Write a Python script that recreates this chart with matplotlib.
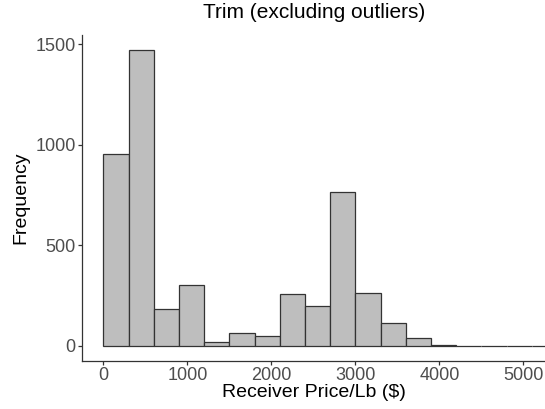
import matplotlib
matplotlib.use("Agg")
import matplotlib.pyplot as plt
import numpy as np

plt.rcParams['font.family'] = ['Liberation Sans', 'DejaVu Sans']

# histogram counts, binwidth 300 starting at 0
bin_width = 300
bin_starts = np.arange(0, 5400, bin_width)
counts = [954, 1470, 185, 301, 20, 66, 50, 258, 197, 767, 262, 114, 38, 5,
          0, 0, 0, 0]

title = "Trim (excluding outliers)"
x_label = "Receiver Price/Lb ($)"
y_label = "Frequency"
x_ticks = [0, 1000, 2000, 3000, 4000, 5000]
y_ticks = [0, 500, 1000, 1500]

fig = plt.figure(figsize=(5.45, 4.09), dpi=100)
ax = fig.add_axes([0.1505, 0.118, 0.8495, 0.7957])

ax.bar(bin_starts, counts, width=bin_width, align='edge',
       color='#BEBEBE', edgecolor='#333333', linewidth=0.9)

ax.set_xlim(-254, 5258)
ax.set_ylim(-73.5, 1543.5)
ax.set_xticks(x_ticks)
ax.set_yticks(y_ticks)

for s in ['top', 'right']:
    ax.spines[s].set_visible(False)
for s in ['left', 'bottom']:
    ax.spines[s].set_color('#333333')
    ax.spines[s].set_linewidth(0.9)

ax.tick_params(axis='both', colors='#333333', labelcolor='#4D4D4D',
               labelsize=13, length=3, width=0.9, pad=1.5)

ax.set_xlabel(x_label, fontsize=14, color='black', labelpad=0)
ax.set_ylabel(y_label, fontsize=14, color='black', labelpad=4)
fig.suptitle(title, fontsize=15, x=0.577, y=0.993, va='top')

fig.savefig('out.png', dpi=100)
